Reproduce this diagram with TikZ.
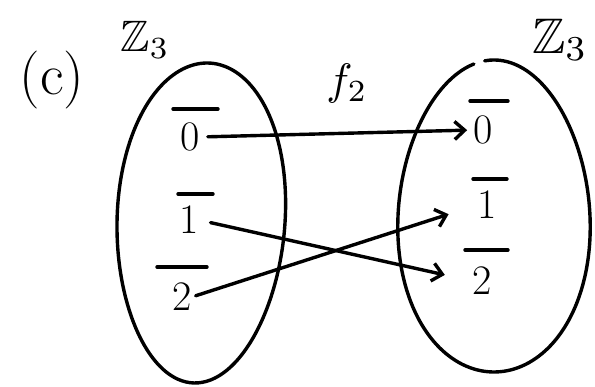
\documentclass[tikz,border=0pt]{standalone}
\usepackage{amssymb}
\usetikzlibrary{arrows.meta}
\begin{document}
\begin{tikzpicture}[x=1pt,y=-1pt,
  ink/.style={line width=3.4pt, line cap=round, line join=round},
  elem/.style={inner sep=0pt, font=\fontsize{42}{46}\selectfont},
  mapto/.style={ink, -{Straight Barb[length=10pt,width=18pt]}},
]
\useasboundingbox (0,0) rectangle (595,387);
% sets
\draw[ink] plot[domain=0:360, samples=120, smooth cycle, variable=\t]
  ({201+84*cos(\t)*(1-0.05*sin(\t)) - 6*sin(\t)}, {223+160*sin(\t)});
\draw[ink] plot[domain=-96:257, samples=120, smooth, variable=\t]
  ({494+96*cos(\t)*(1+0.07*sin(\t))}, {216+156*sin(\t)});
% labels
\node[font=\fontsize{58}{62}\selectfont] (c) at (52,80) {(c)};
\node[scale=4.4] (zl) at (145,40) {$\mathbb{Z}_3$};
\node[scale=5] (zr) at (560,40) {$\mathbb{Z}_3$};
\node[scale=4.4] (f) at (347,84) {$f_2$};
% elements
\node[elem] (l0) at (190,137) {0};
\node[elem] (l1) at (189,220) {1};
\node[elem] (l2) at (182,297) {2};
\node[elem] (r0) at (483,130) {0};
\node[elem] (r1) at (487,205) {1};
\node[elem] (r2) at (482,281) {2};
% bars
\draw[ink] (l0) ++(-17,-28) -- ++(45,0);
\draw[ink] (l1) ++(-11,-26) -- ++(35,0);
\draw[ink] (l2) ++(-25,-30) -- ++(50,0);
\draw[ink] (r0) ++(-13,-29) -- ++(38,0);
\draw[ink] (r1) ++(-14,-26) -- ++(34,0);
\draw[ink] (r2) ++(-17,-31) -- ++(43,0);
% map
\draw[mapto, shorten <=8pt, shorten >=6pt] (l0.east) -- (r0.west);
\draw[mapto, shorten <=12pt, shorten >=28pt] (l1.east) -- (r2.west);
\draw[mapto, shorten <=4pt, shorten >=30pt] (l2.east) -- (r1.west);
\end{tikzpicture}
\end{document}
